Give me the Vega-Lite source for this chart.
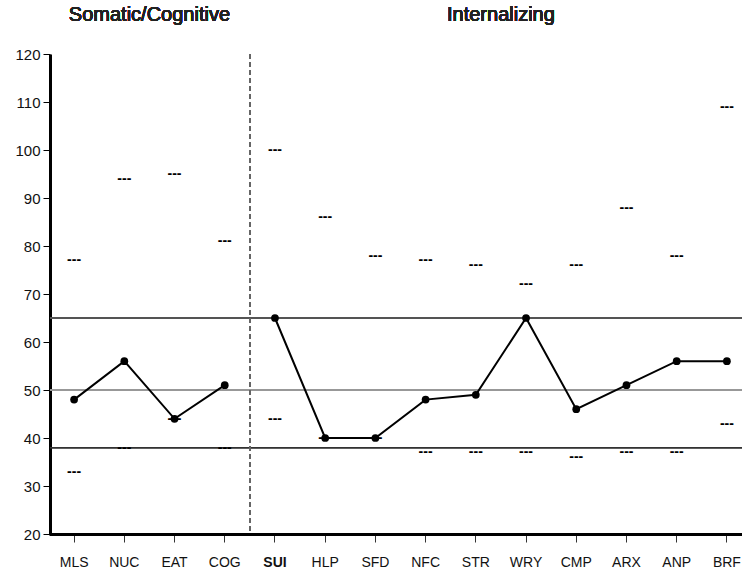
{
  "$schema": "https://vega.github.io/schema/vega-lite/v6.json",
  "width": 692,
  "height": 480,
  "autosize": {"type": "none"},
  "padding": {"left": 50, "top": 54, "right": 0, "bottom": 38},
  "background": "white",
  "config": {
    "view": {"stroke": null},
    "font": "Liberation Sans"
  },
  "data": {
    "values": [
      {"scale": "MLS", "group": "Somatic/Cognitive", "score": 48, "upper": 77, "lower": 33},
      {"scale": "NUC", "group": "Somatic/Cognitive", "score": 56, "upper": 94, "lower": 38},
      {"scale": "EAT", "group": "Somatic/Cognitive", "score": 44, "upper": 95, "lower": 44},
      {"scale": "COG", "group": "Somatic/Cognitive", "score": 51, "upper": 81, "lower": 38},
      {"scale": "SUI", "group": "Internalizing", "score": 65, "upper": 100, "lower": 44},
      {"scale": "HLP", "group": "Internalizing", "score": 40, "upper": 86, "lower": 40},
      {"scale": "SFD", "group": "Internalizing", "score": 40, "upper": 78, "lower": 40},
      {"scale": "NFC", "group": "Internalizing", "score": 48, "upper": 77, "lower": 37},
      {"scale": "STR", "group": "Internalizing", "score": 49, "upper": 76, "lower": 37},
      {"scale": "WRY", "group": "Internalizing", "score": 65, "upper": 72, "lower": 37},
      {"scale": "CMP", "group": "Internalizing", "score": 46, "upper": 76, "lower": 36},
      {"scale": "ARX", "group": "Internalizing", "score": 51, "upper": 88, "lower": 37},
      {"scale": "ANP", "group": "Internalizing", "score": 56, "upper": 78, "lower": 37},
      {"scale": "BRF", "group": "Internalizing", "score": 56, "upper": 109, "lower": 43}
    ]
  },
  "encoding": {
    "x": {
      "field": "scale",
      "type": "nominal",
      "sort": null,
      "scale": {
        "type": "band",
        "domain": ["MLS", "NUC", "EAT", "COG", "SUI", "HLP", "SFD", "NFC", "STR", "WRY", "CMP", "ARX", "ANP", "BRF"],
        "range": [-1, 702],
        "paddingInner": 0,
        "paddingOuter": 0
      },
      "axis": {
        "title": null,
        "labelAngle": 0,
        "labelFontSize": 14,
        "labelColor": "#111111",
        "labelPadding": 13,
        "labelFontWeight": {"condition": {"test": "datum.value === 'SUI'", "value": "bold"}, "value": "normal"},
        "tickSize": 8,
        "tickColor": "#333333",
        "tickWidth": 1,
        "domainColor": "#000000",
        "domainWidth": 3,
        "grid": false
      }
    },
    "y": {
      "type": "quantitative",
      "scale": {"domain": [20, 120], "nice": false, "zero": false},
      "axis": {
        "title": null,
        "values": [20, 30, 40, 50, 60, 70, 80, 90, 100, 110, 120],
        "labelFontSize": 15,
        "labelColor": "#111111",
        "labelPadding": 3,
        "tickSize": 7,
        "tickColor": "#000000",
        "domainColor": "#000000",
        "domainWidth": 3,
        "grid": false
      }
    }
  },
  "layer": [
    {
      "mark": {"type": "rule", "stroke": "#555555", "strokeWidth": 1},
      "encoding": {"x": null, "y": {"datum": 65, "type": "quantitative"}}
    },
    {
      "mark": {"type": "rule", "stroke": "#999999", "strokeWidth": 1.5},
      "encoding": {"x": null, "y": {"datum": 50, "type": "quantitative"}}
    },
    {
      "mark": {"type": "rule", "stroke": "#333333", "strokeWidth": 1},
      "encoding": {"x": null, "y": {"datum": 38, "type": "quantitative"}}
    },
    {
      "mark": {"type": "rule", "stroke": "#666666", "strokeWidth": 1, "strokeDash": [5, 3]},
      "encoding": {
        "x": {"datum": "SUI", "type": "nominal", "bandPosition": 0},
        "y": {"datum": 120, "type": "quantitative"},
        "y2": {"datum": 20}
      }
    },
    {
      "mark": {"type": "text", "text": "---", "fontSize": 14, "fontWeight": "bold", "color": "#000000", "align": "center", "baseline": "alphabetic", "dy": 4},
      "encoding": {"y": {"field": "upper", "type": "quantitative"}}
    },
    {
      "mark": {"type": "text", "text": "---", "fontSize": 14, "fontWeight": "bold", "color": "#000000", "align": "center", "baseline": "alphabetic", "dy": 4},
      "encoding": {"y": {"field": "lower", "type": "quantitative"}}
    },
    {
      "mark": {"type": "line", "color": "#000000", "strokeWidth": 2},
      "encoding": {
        "y": {"field": "score", "type": "quantitative"},
        "detail": {"field": "group", "type": "nominal"}
      }
    },
    {
      "mark": {"type": "point", "filled": true, "color": "#000000", "size": 60, "opacity": 1},
      "encoding": {"y": {"field": "score", "type": "quantitative"}}
    },
    {
      "mark": {"type": "text", "text": "Somatic/Cognitive", "fontSize": 20, "fontWeight": "normal", "color": "#222222", "align": "center", "baseline": "alphabetic", "dy": -33},
      "encoding": {
        "x": {"datum": "NUC", "type": "nominal", "bandPosition": 1},
        "y": {"datum": 120, "type": "quantitative"}
      }
    },
    {
      "mark": {"type": "text", "text": "Internalizing", "fontSize": 20, "fontWeight": "normal", "color": "#222222", "align": "center", "baseline": "alphabetic", "dy": -33},
      "encoding": {
        "x": {"datum": "STR", "type": "nominal", "bandPosition": 1},
        "y": {"datum": 120, "type": "quantitative"}
      }
    }
  ]
}
